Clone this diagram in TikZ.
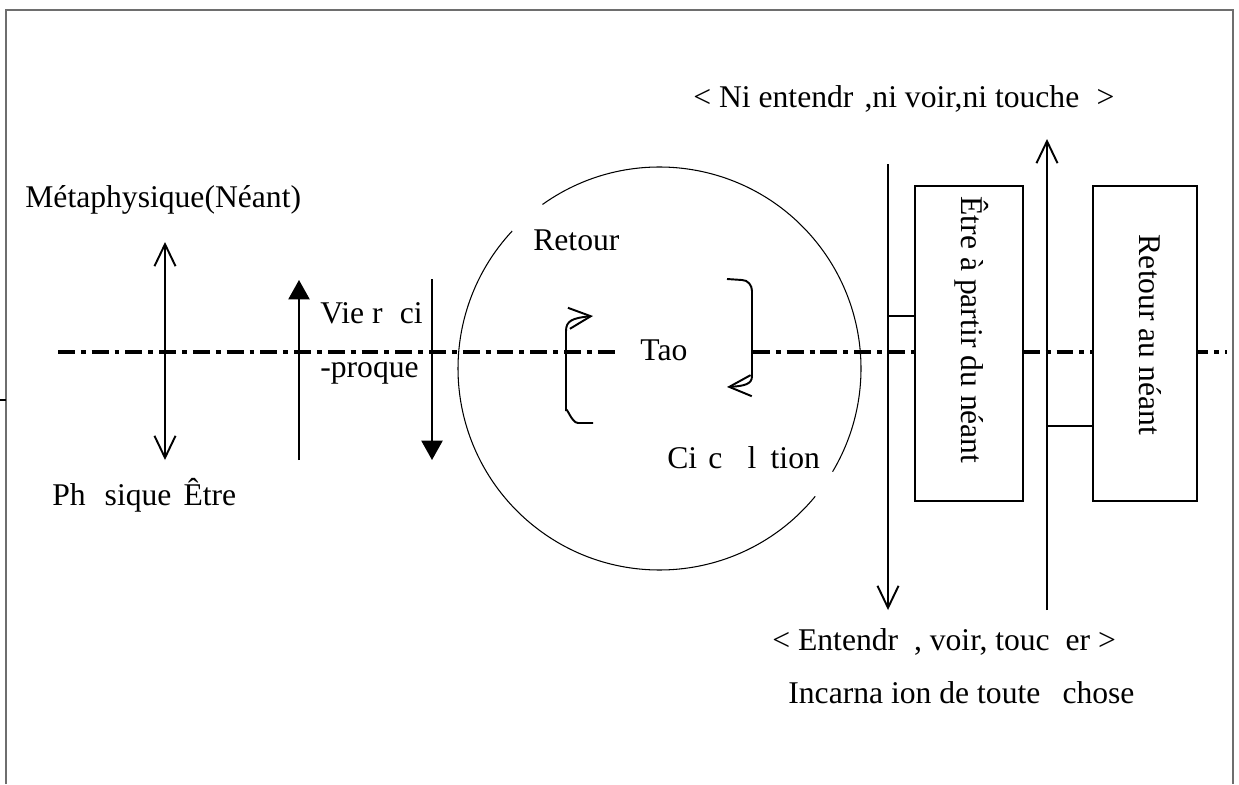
\documentclass[tikz,border=0pt]{standalone}
\usepackage{fontspec}
\setmainfont{Liberation Serif}
\usetikzlibrary{arrows.meta}
\definecolor{framegray}{RGB}{110,110,110}
\tikzset{
  txt/.style={font=\fontsize{18}{22}\selectfont, inner sep=0pt, anchor=base west},
  rtxt/.style={font=\fontsize{18}{22}\selectfont, inner sep=0pt, rotate=-90},
  ln/.style={line width=1.1pt},
  thin circ/.style={line width=0.6pt},
  barb/.style={-{Straight Barb[length=12.5pt,width=12pt]}},
  dbarb/.style={{Straight Barb[length=12.5pt,width=12pt]}-{Straight Barb[length=12.5pt,width=12pt]}},
  tri/.style={-{Triangle[length=11pt,width=12pt]}},
  boxstyle/.style={draw, line width=1.1pt, fill=white, inner sep=0pt, minimum height=6.3cm},
  axis/.style={line width=2pt, dash pattern=on 9.6pt off 3.4pt on 2.8pt off 3.4pt},
}
\begin{document}
\begin{tikzpicture}[x=0.02cm, y=-0.02cm]
\useasboundingbox (0,0) rectangle (1239,784);
% frame
\draw[framegray, line width=1.3pt] (6,784) -- (6,10) -- (1233,10) -- (1233,784);
\draw[line width=1pt] (0,400) -- (6,400);

% circle
\coordinate (cc) at (659.5,368.5);
\draw[thin circ] (cc) ++(39.4:201.5) arc[start angle=39.4, end angle=223, radius=201.5];
\draw[thin circ] (cc) ++(234.5:201.5) arc[start angle=234.5, end angle=390.8, radius=201.5];

% dash-dot axis
\coordinate (a1) at (58,352);
\coordinate (a2) at (620,352);
\coordinate (a3) at (753,352);
\coordinate (a4) at (1227,352);
\draw[axis] (a1) -- (a2);
\draw[axis] (a3) -- (a4);

% left arrows
\coordinate (d1) at (165,242);
\coordinate (d2) at (165,460);
\draw[ln, dbarb] (d1) -- (d2);
\coordinate (u1) at (299,460);
\coordinate (u2) at (299,280);
\draw[ln, tri] (u1) -- (u2);
\coordinate (w1) at (432,279);
\coordinate (w2) at (432,460);
\draw[ln, tri] (w1) -- (w2);

% texts left
\node[txt] (meta) at (25,207) {Métaphysique(Néant)};
\node[txt] (phys) at (52,505) {Ph\hspace{0.6em}sique\hspace{0.38em}Être};
\node[txt] (vie) at (320,323) {Vie r\hspace{0.55em}ci};
\node[txt] (proq) at (320,377) {-proque};

% circle texts
\node[txt] (ret) at (533,250) {Retour};
\node[txt] (tao) at (640,360) {Tao};
\node[txt] (circ) at (667,468) {Ci\hspace{0.35em}c\hspace{0.8em}l\hspace{0.45em}tion};

% bracket arrows
\coordinate (lb1) at (593,423);
\coordinate (lb2) at (593,316);
\draw[ln, barb] (lb1) -- (578,423) to[out=180,in=90] (566,411) -- (566,331) .. controls (566,321) and (572,318) .. (lb2);
\coordinate (rb1) at (727,279);
\coordinate (rb2) at (727,387);
\draw[ln, barb] (rb1) -- (742,280) to[out=0,in=90] (752,291) -- (752,376) .. controls (752,384) and (745,386) .. (rb2);

% right part
\node[txt] (top) at (693,108) {< Ni entendr\hspace{0.35em},ni voir,ni touche\hspace{0.55em}>};
\node[txt] (bot1) at (772,650) {< Entendr\hspace{0.5em}, voir, touc\hspace{0.5em}er >};
\node[txt] (bot2) at (788,703) {Incarna ion de toute\hspace{0.7em}chose};

\node[boxstyle, minimum width=2.16cm] (box1) at (969,343.5) {};
\node[boxstyle, minimum width=2.08cm] (box2) at (1145,343.5) {};
\node[rtxt] (t1) at (972,330) {Être à partir du néant};
\node[rtxt] (t2) at (1150,335) {Retour au néant};

\coordinate (v1) at (888,164);
\coordinate (v2) at (888,610);
\draw[ln, barb] (v1) -- (v2);
\coordinate (k1) at (888,316);
\draw[ln] (k1) -- (k1 -| box1.west);

\coordinate (g1) at (1047,610);
\coordinate (g2) at (1047,139);
\draw[ln, barb] (g1) -- (g2);
\coordinate (k2) at (1047,426);
\draw[ln] (k2) -- (k2 -| box2.west);
\end{tikzpicture}
\end{document}
